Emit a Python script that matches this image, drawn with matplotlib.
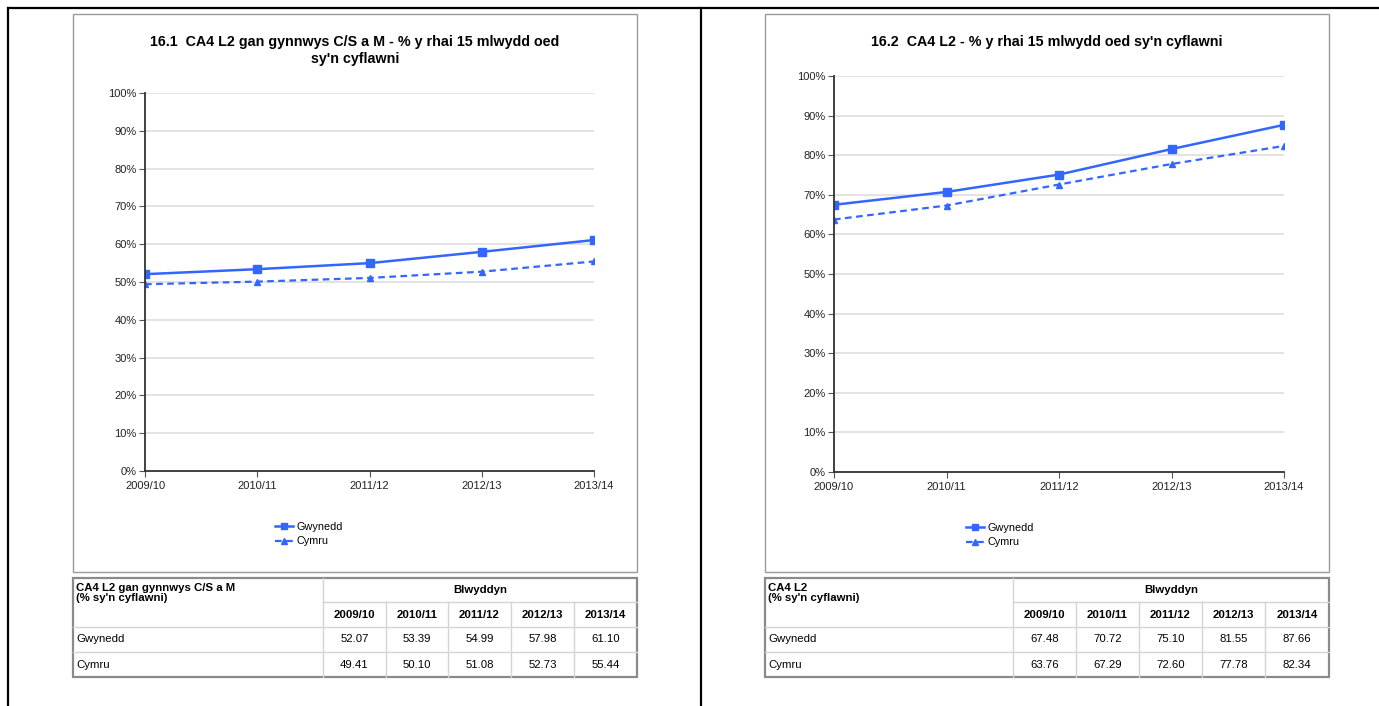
import matplotlib.pyplot as plt
from matplotlib.lines import Line2D
from matplotlib.patches import Rectangle

plt.rcParams['font.family'] = ['Liberation Sans', 'DejaVu Sans']

W, H = 1379, 706

years = ['2009/10', '2010/11', '2011/12', '2012/13', '2013/14']
pct_ticks = [0, 10, 20, 30, 40, 50, 60, 70, 80, 90, 100]

# 16.1 CA4 L2 gan gynnwys C/S a M
gwynedd_1 = [52.07, 53.39, 54.99, 57.98, 61.10]
cymru_1 = [49.41, 50.10, 51.08, 52.73, 55.44]

# 16.2 CA4 L2
gwynedd_2 = [67.48, 70.72, 75.10, 81.55, 87.66]
cymru_2 = [63.76, 67.29, 72.60, 77.78, 82.34]

BLUE = '#3366ff'
TFS = 8.2  # table font size


def fx(x):
    return x / W


def fy(y):
    return 1 - y / H


def hline(fig, x0, x1, y, **kw):
    fig.add_artist(Line2D([fx(x0), fx(x1)], [fy(y), fy(y)], transform=fig.transFigure, **kw))


def vline(fig, x, y0, y1, **kw):
    fig.add_artist(Line2D([fx(x), fx(x)], [fy(y0), fy(y1)], transform=fig.transFigure, **kw))


def box(fig, x0, y0, x1, y1, ec='#9a9a9a', lw=1.0):
    fig.add_artist(Rectangle((fx(x0), fy(y1)), fx(x1) - fx(x0), fy(y0) - fy(y1),
                             transform=fig.transFigure, fill=False, ec=ec, lw=lw))


def panel(fig, frame, axbox, title, g, c, legend_xy, tbl_cols, tbl_rows, tbl_title):
    # chart frame
    box(fig, *frame)
    l, t, r, b = axbox
    fig.text(fx((frame[0] + frame[2]) / 2), fy(35), title, ha='center', va='top',
             fontsize=10.3, fontweight='bold', linespacing=1.25)

    ax = fig.add_axes([fx(l), fy(b), fx(r) - fx(l), fy(t) - fy(b)])
    x = list(range(len(years)))
    ax.plot(x, g, color=BLUE, lw=1.8, marker='s', ms=5.5, label='Gwynedd', zorder=3)
    ax.plot(x, c, color=BLUE, lw=1.6, ls=(0, (3, 2)), marker='^', ms=5, label='Cymru', zorder=3)
    ax.set_xlim(0, 4)
    ax.set_ylim(0, 100)
    ax.set_yticks(pct_ticks)
    ax.set_yticklabels([f'{v}%' for v in pct_ticks])
    ax.set_xticks(x)
    ax.set_xticklabels(years)
    ax.grid(axis='y', color='#e0e0e0', lw=1.3)
    ax.set_axisbelow(True)
    for s in ['top', 'right']:
        ax.spines[s].set_visible(False)
    for s in ['left', 'bottom']:
        ax.spines[s].set_color('#333333')
        ax.spines[s].set_linewidth(1.3)
        ax.spines[s].set_zorder(4)
    ax.spines['bottom'].set_bounds(0, 4)
    ax.tick_params(axis='both', labelsize=8, length=4, width=0.8, colors='#555555',
                   labelcolor='#222222', pad=2)
    ax.tick_params(axis='x', pad=3)
    ax.patch.set_alpha(0)
    for sp in ax.spines.values():
        sp.set_clip_on(False)

    h, lab = ax.get_legend_handles_labels()
    fig.legend(h, lab, loc='upper left', bbox_to_anchor=(fx(legend_xy[0]), fy(legend_xy[1])),
               frameon=False, fontsize=7.8, handlelength=1.7, handletextpad=0.25,
               labelspacing=0.4, borderaxespad=0, borderpad=0, markerscale=0.8)

    # table
    x0, x6 = tbl_cols[0], tbl_cols[-1]
    y0, y4 = tbl_rows[0], tbl_rows[-1]
    grid_kw = dict(color='#d4d4d4', lw=1)
    # inner grid
    hline(fig, tbl_cols[1], x6, tbl_rows[1], **grid_kw)
    for yy in tbl_rows[2:4]:
        hline(fig, x0, x6, yy, **grid_kw)
    vline(fig, tbl_cols[1], y0, y4, **grid_kw)
    for xx in tbl_cols[2:6]:
        vline(fig, xx, tbl_rows[1], y4, **grid_kw)
    box(fig, x0, y0, x6, y4, ec='#8a8a8a', lw=1.6)

    fig.text(fx(x0 + 3), fy(y0 + 5), tbl_title, ha='left', va='top', fontsize=TFS,
             fontweight='bold', linespacing=1.05)
    fig.text(fx((tbl_cols[1] + x6) / 2), fy((y0 + tbl_rows[1]) / 2), 'Blwyddyn',
             ha='center', va='center', fontsize=TFS, fontweight='bold')
    for i, yr in enumerate(years):
        cx = (tbl_cols[i + 1] + tbl_cols[i + 2]) / 2
        fig.text(fx(cx), fy((tbl_rows[1] + tbl_rows[2]) / 2), yr, ha='center', va='center',
                 fontsize=TFS, fontweight='bold')
        fig.text(fx(cx), fy((tbl_rows[2] + tbl_rows[3]) / 2), f'{g[i]:.2f}', ha='center',
                 va='center', fontsize=TFS)
        fig.text(fx(cx), fy((tbl_rows[3] + tbl_rows[4]) / 2), f'{c[i]:.2f}', ha='center',
                 va='center', fontsize=TFS)
    fig.text(fx(x0 + 3), fy((tbl_rows[2] + tbl_rows[3]) / 2), 'Gwynedd', ha='left',
             va='center', fontsize=TFS)
    fig.text(fx(x0 + 3), fy((tbl_rows[3] + tbl_rows[4]) / 2), 'Cymru', ha='left',
             va='center', fontsize=TFS)


fig = plt.figure(figsize=(W / 100, H / 100), dpi=100)

# page borders
hline(fig, 8, W, 8, color='black', lw=1.6)
vline(fig, 8, 8, H, color='black', lw=1.6)
vline(fig, 701, 8, H, color='black', lw=1.6)

panel(fig, (73, 14, 637, 572), (145, 93, 594, 471),
      "16.1  CA4 L2 gan gynnwys C/S a M - % y rhai 15 mlwydd oed\nsy'n cyflawni",
      gwynedd_1, cymru_1, (275, 522),
      [73, 323, 386, 448, 511, 574, 637], [578, 602, 627, 652, 677],
      "CA4 L2 gan gynnwys C/S a M\n(% sy'n cyflawni)")

panel(fig, (765, 14, 1329, 572), (834, 76, 1284, 472),
      "16.2  CA4 L2 - % y rhai 15 mlwydd oed sy'n cyflawni",
      gwynedd_2, cymru_2, (966, 523),
      [765, 1013, 1076, 1139, 1202, 1265, 1329], [578, 602, 627, 652, 677],
      "CA4 L2\n(% sy'n cyflawni)")

fig.savefig('out.png', dpi=100)
